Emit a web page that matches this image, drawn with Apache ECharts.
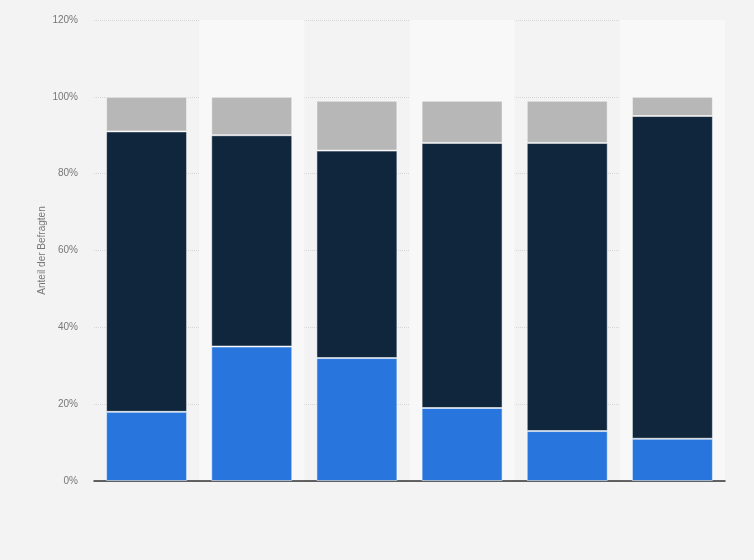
<!DOCTYPE html>
<html>
<head>
<meta charset="utf-8">
<script src="https://cdn.jsdelivr.net/npm/echarts@6/dist/echarts.min.js"></script>
<style>
  html, body { margin: 0; padding: 0; background: #f3f3f3; }
  #main { width: 754px; height: 560px; }
</style>
</head>
<body>
<div id="main"></div>
<script>
// 6 Gruppen, keine sichtbaren Beschriftungen
var categories = ['1', '2', '3', '4', '5', '6'];
var blueValues = [18, 35, 32, 19, 13, 11];
var darkValues = [73, 55, 54, 69, 75, 84];
var grayValues = [9, 10, 13, 11, 11, 5];
var yTicks = [0, 20, 40, 60, 80, 100, 120];

var myChart = echarts.init(document.getElementById('main'));

function barSeries(name, data, color) {
    return {
        name: name,
        type: 'bar',
        stack: 'total',
        barWidth: '77%',
        data: data,
        itemStyle: {
            color: color,
            borderColor: 'rgba(255,255,255,0.5)',
            borderWidth: 1
        }
    };
}

var option = {
    backgroundColor: '#f3f3f3',
    animation: false,
    grid: { left: 94, right: 29, top: 20, bottom: 79 },
    xAxis: {
        type: 'category',
        data: categories,
        axisLine: { lineStyle: { color: '#333', width: 1.5 } },
        axisTick: { show: false },
        axisLabel: { show: false },
        splitArea: {
            show: true,
            areaStyle: { color: ['rgba(0,0,0,0)', '#f8f8f8'] }
        }
    },
    yAxis: {
        type: 'value',
        min: yTicks[0],
        max: yTicks[yTicks.length - 1],
        interval: 20,
        name: 'Anteil der Befragten',
        nameLocation: 'middle',
        nameGap: 47,
        nameMoveOverlap: false,
        nameTextStyle: { color: '#777', fontSize: 10, fontFamily: 'Liberation Sans' },
        axisLine: { show: false },
        axisTick: { show: false },
        axisLabel: {
            formatter: '{value}%',
            color: '#777',
            fontSize: 10,
            fontFamily: 'Liberation Sans',
            margin: 16
        },
        splitLine: { lineStyle: { color: '#d6d6d6', type: 'dotted' } }
    },
    series: [
        barSeries('blau', blueValues, '#2876dd'),
        barSeries('dunkel', darkValues, '#0f263d'),
        barSeries('grau', grayValues, '#b7b7b7')
    ]
};

myChart.setOption(option);
</script>
</body>
</html>
